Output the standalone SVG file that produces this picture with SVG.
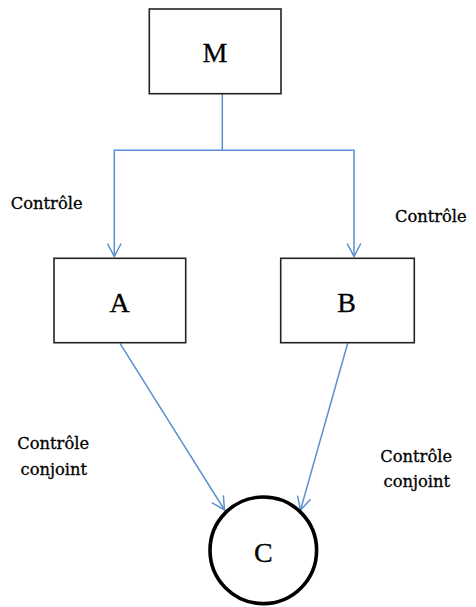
<svg xmlns="http://www.w3.org/2000/svg" width="476" height="607" viewBox="0 0 476 607">
<style>
.box{fill:#fff;stroke:#222;stroke-width:1.6}
.circ{fill:#fff;stroke:#000;stroke-width:3.6}
.big{font-family:"Liberation Serif","Times New Roman",serif;font-size:28px;fill:#000;stroke:#000;stroke-width:0.3;text-anchor:middle}
.lbl{font-family:"DejaVu Serif","Liberation Serif",serif;font-size:16.3px;fill:#000;stroke:#000;stroke-width:0.3;text-anchor:middle}
.con{fill:none;stroke:#5B8FD0;stroke-width:1.5}
</style>
<defs>
<marker id="arr" markerUnits="userSpaceOnUse" markerWidth="30" markerHeight="30" refX="0" refY="0" orient="auto" viewBox="-15 -15 30 30" overflow="visible">
<path d="M-13,-6.8 L0,0 L-13,6.8" fill="none" stroke="#5B8FD0" stroke-width="1.5"/>
</marker>
</defs>
<g id="connectors">
<path class="con" d="M222.3,93.7 V150.3 H114.3 V256.5" marker-end="url(#arr)"/>
<path class="con" d="M222.3,150.3 H354 V256.5" marker-end="url(#arr)"/>
<path class="con" d="M120,343.3 L224.5,510" marker-end="url(#arr)"/>
<path class="con" d="M347.7,343.3 L300.5,510" marker-end="url(#arr)"/>
</g>
<g id="node-M">
<rect class="box" x="149.3" y="9" width="131.7" height="84.7"/>
<text class="big" x="215" y="61.7">M</text>
</g>
<g id="node-A">
<rect class="box" x="54" y="258.3" width="131.7" height="84.4"/>
<text class="big" x="119.5" y="311.7">A</text>
</g>
<g id="node-B">
<rect class="box" x="280.7" y="258.3" width="133.6" height="84.4"/>
<text class="big" x="346.5" y="311.7">B</text>
</g>
<g id="node-C">
<circle class="circ" cx="263.3" cy="550.3" r="53.3"/>
<text class="big" x="263.3" y="561.7">C</text>
</g>
<g id="labels">
<text class="lbl" x="46.7" y="209.3">Contrôle</text>
<text class="lbl" x="430.8" y="221.7">Contrôle</text>
<text class="lbl" x="53.2" y="449.3">Contrôle</text>
<text class="lbl" x="53.8" y="475">conjoint</text>
<text class="lbl" x="416.2" y="462">Contrôle</text>
<text class="lbl" x="416.8" y="487.3">conjoint</text>
</g>
</svg>
